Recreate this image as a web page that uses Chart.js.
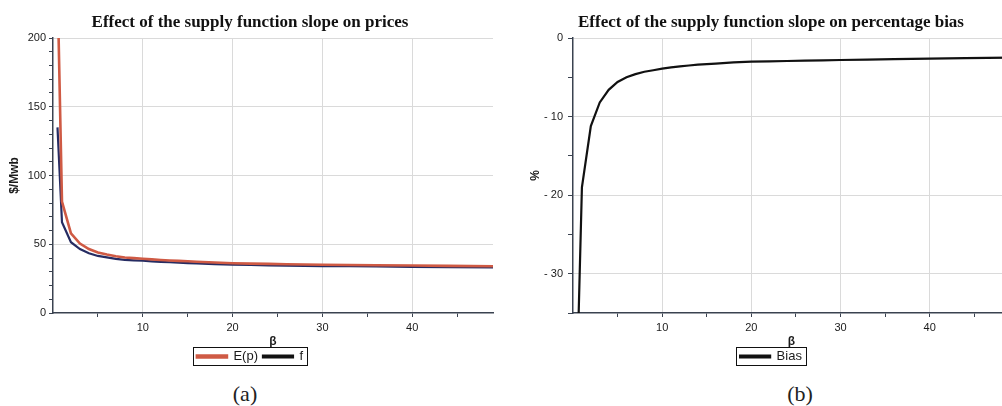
<!DOCTYPE html>
<html>
<head>
<meta charset="utf-8">
<script src="https://cdn.jsdelivr.net/npm/chart.js@4.4.1/dist/chart.umd.min.js"></script>
<style>
  html, body { margin: 0; padding: 0; background: #fff; overflow: hidden; }
  #wrap { position: relative; width: 1002px; height: 406px; overflow: hidden; }
  canvas { position: absolute; top: 0; }
  #cA { left: 0; }
  #cB { left: 500px; }
  .cap { position: absolute; top: 381px; font-family: "Liberation Serif", serif; font-size: 22px; color: #222; transform: translateX(-50%); }
</style>
</head>
<body>
<div id="wrap">
  <canvas id="cA" width="500" height="377"></canvas>
  <canvas id="cB" width="542" height="377"></canvas>
  <div class="cap" style="left:245px">(a)</div>
  <div class="cap" style="left:800px">(b)</div>
</div>
<script>
// Supply-function slope β and the resulting series
const betas = [0.5, 1, 2, 3, 4, 5, 6, 7, 8, 9, 10, 11, 12, 13, 14, 15, 16, 18, 20, 22, 24, 26, 28, 30, 33, 36, 40, 44, 49];
const expectedPrice = [240, 81, 58, 50.5, 46.5, 44.0, 42.5, 41.3, 40.4, 39.9, 39.5, 39.0, 38.6, 38.2, 37.9, 37.6, 37.3, 36.7, 36.2, 35.9, 35.7, 35.5, 35.3, 35.1, 34.9, 34.7, 34.5, 34.3, 34.0];
const fPrice = [135, 66, 51.5, 46.5, 43.5, 41.5, 40.4, 39.4, 38.7, 38.3, 38.0, 37.6, 37.2, 36.9, 36.6, 36.3, 36.1, 35.6, 35.1, 34.9, 34.7, 34.5, 34.3, 34.1, 34.0, 33.8, 33.6, 33.4, 33.2];
const biasPct = [-41, -19, -11.2, -8.2, -6.6, -5.6, -5.0, -4.6, -4.3, -4.1, -3.9, -3.75, -3.6, -3.5, -3.4, -3.32, -3.25, -3.1, -3.0, -2.97, -2.93, -2.89, -2.85, -2.8, -2.76, -2.7, -2.62, -2.57, -2.5];

const priceTitle = 'Effect of the supply function slope on prices';
const biasTitle = 'Effect of the supply function slope on percentage bias';
const xTickLabels = [10, 20, 30, 40];
const priceTickLabels = [0, 50, 100, 150, 200];
const biasTickLabels = [0, -10, -20, -30];

const pts = (ys) => betas.map((b, i) => ({ x: b, y: ys[i] }));

const tickFont = { family: 'Liberation Sans, Arial, sans-serif', size: 11 };
const INK = '#1a1a1a';
const AXIS = '#3a4250';
const GRID = '#dadada';

// Draws a thin frame round the legend entries
const legendFrame = {
  id: 'legendFrame',
  afterDraw(chart) {
    const boxes = chart.legend && chart.legend.legendHitBoxes;
    if (!boxes || !boxes.length) return;
    let l = Infinity, r = -Infinity, t = Infinity, b = -Infinity;
    boxes.forEach(h => {
      l = Math.min(l, h.left); r = Math.max(r, h.left + h.width);
      t = Math.min(t, h.top); b = Math.max(b, h.top + h.height);
    });
    const ctx = chart.ctx;
    ctx.save();
    ctx.strokeStyle = '#111';
    ctx.lineWidth = 1;
    ctx.strokeRect(Math.round(l - 4) + 0.5, Math.round(t - 3) + 0.5, Math.round(r - l + 8), Math.round(b - t + 5));
    ctx.restore();
  }
};

function xScale(max) {
  return {
    type: 'linear', min: 0, max: max,
    ticks: {
      stepSize: 5, autoSkip: false, maxRotation: 0, padding: 4,
      font: tickFont, color: INK,
      callback: v => xTickLabels.includes(v) ? String(v) : ''
    },
    grid: {
      drawTicks: true, tickLength: 4,
      color: c => (c.tick && xTickLabels.includes(c.tick.value)) ? GRID : 'rgba(0,0,0,0)',
      tickColor: c => (c.tick && c.tick.value % 5 === 0 && c.tick.value > 0) ? AXIS : 'rgba(0,0,0,0)'
    },
    border: { color: AXIS, width: 1.5 },
    title: { display: true, text: 'β', color: INK, font: { family: 'Liberation Sans, Arial, sans-serif', size: 12, weight: 'bold' }, padding: { top: 0, bottom: -4 } },
    afterFit: s => { s.height = 32; }
  };
}

function legendOpts() {
  return {
    display: true, position: 'bottom',
    labels: {
      boxWidth: 30, boxHeight: 2, padding: 5, color: INK,
      font: { family: 'Liberation Sans, Arial, sans-serif', size: 13 },
      generateLabels: chart => Chart.defaults.plugins.legend.labels.generateLabels(chart).map(item => {
        item.strokeStyle = item.fillStyle;
        return item;
      })
    }
  };
}

function titleOpts(text) {
  return {
    display: true, text: text, color: '#111',
    font: { family: 'Liberation Serif, Times New Roman, serif', size: 17, weight: 'bold' },
    padding: { top: 6, bottom: 5.6 }
  };
}

new Chart(document.getElementById('cA'), {
  type: 'line',
  data: {
    datasets: [
      { label: 'E(p)', data: pts(expectedPrice), borderColor: '#cf5a44', backgroundColor: '#cf5a44', borderWidth: 2.6, pointRadius: 0 },
      { label: 'f', data: pts(fPrice), borderColor: '#262c62', backgroundColor: '#111', borderWidth: 2.2, pointRadius: 0 }
    ]
  },
  options: {
    responsive: false, animation: false, devicePixelRatio: 1,
    layout: { padding: { left: 7, right: 7, top: 6, bottom: 4 } },
    plugins: { title: titleOpts(priceTitle), legend: legendOpts(), tooltip: { enabled: false } },
    scales: {
      x: xScale(49),
      y: {
        type: 'linear', min: 0, max: 200,
        ticks: {
          stepSize: 10, autoSkip: false, padding: 3, font: tickFont, color: INK,
          callback: v => priceTickLabels.includes(v) ? String(v) : ''
        },
        grid: {
          drawTicks: true, tickLength: 4,
          color: c => (c.tick && c.tick.value > 0 && c.tick.value % 50 === 0) ? GRID : 'rgba(0,0,0,0)',
          tickColor: AXIS
        },
        border: { color: AXIS, width: 1.5 },
        title: { display: true, text: '$/Mwb', color: INK, font: { family: 'Liberation Sans, Arial, sans-serif', size: 12, weight: 'bold' }, padding: { top: 0, bottom: 0 } },
        afterFit: s => { s.width = 46; }
      }
    }
  },
  plugins: [legendFrame]
});

new Chart(document.getElementById('cB'), {
  type: 'line',
  data: {
    datasets: [
      { label: 'Bias', data: pts(biasPct), borderColor: '#111', backgroundColor: '#111', borderWidth: 2.2, pointRadius: 0 }
    ]
  },
  options: {
    responsive: false, animation: false, devicePixelRatio: 1,
    layout: { padding: { left: 32, right: 32, top: 6, bottom: 4 } },
    plugins: { title: titleOpts(biasTitle), legend: legendOpts(), tooltip: { enabled: false } },
    scales: {
      x: xScale(49),
      y: {
        type: 'linear', min: -35, max: 0,
        ticks: {
          stepSize: 5, autoSkip: false, padding: 5, font: tickFont, color: INK,
          callback: v => biasTickLabels.includes(v) ? (v < 0 ? '- ' + Math.abs(v) : String(v)) : ''
        },
        grid: {
          drawTicks: true, tickLength: 5,
          color: c => (c.tick && c.tick.value % 10 === 0) ? GRID : 'rgba(0,0,0,0)',
          tickColor: AXIS
        },
        border: { color: AXIS, width: 1.5 },
        title: { display: true, text: '%', color: INK, font: { family: 'Liberation Sans, Arial, sans-serif', size: 12, weight: 'bold' }, padding: { top: -4, bottom: 0 } },
        afterFit: s => { s.width = 41; }
      }
    }
  },
  plugins: [legendFrame]
});
</script>
</body>
</html>
